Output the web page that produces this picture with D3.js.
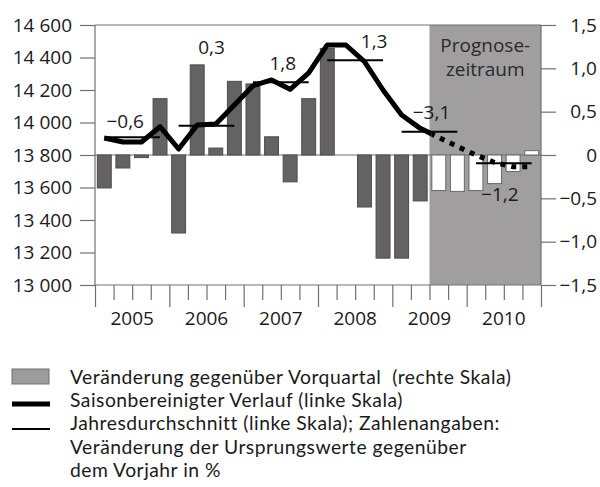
<!DOCTYPE html>
<html>
<head>
<meta charset="utf-8">
<script src="https://cdn.jsdelivr.net/npm/d3@7"></script>
<style>
  body { margin: 0; background: #fff; }
  #chart { width: 600px; height: 487px; }
  text { font-family: "Open Sans", "Noto Sans", sans-serif; fill: #1a1a1a; }
</style>
</head>
<body>
<div id="chart"></div>
<script>
// Data
var years = ["2005", "2006", "2007", "2008", "2009", "2010"];
var quarters = [
    "2005 Q1", "2005 Q2", "2005 Q3", "2005 Q4",
    "2006 Q1", "2006 Q2", "2006 Q3", "2006 Q4",
    "2007 Q1", "2007 Q2", "2007 Q3", "2007 Q4",
    "2008 Q1", "2008 Q2", "2008 Q3", "2008 Q4",
    "2009 Q1", "2009 Q2", "2009 Q3", "2009 Q4",
    "2010 Q1", "2010 Q2", "2010 Q3", "2010 Q4"
];
// Veränderung gegenüber Vorquartal (rechte Skala)
var changePrevQuarter = [-0.38, -0.15, -0.03, 0.65, -0.90, 1.04, 0.08, 0.85,
    0.82, 0.21, -0.31, 0.65, 1.23, 0.0, -0.60, -1.19,
    -1.19, -0.53, -0.41, -0.42, -0.41, -0.33, -0.19, 0.05];
// Saisonbereinigter Verlauf (linke Skala)
var seasonAdjusted = [13905, 13880, 13880, 13974, 13837, 13985, 13991, 14108,
    14226, 14262, 14204, 14305, 14477, 14477, 14374, 14200,
    14046, 13964, 13908, 13852, 13800, 13754, 13728, 13728];
// Jahresdurchschnitt (linke Skala) + Veränderung gegenüber Vorjahr
var annualAverage = [13910, 13980, 14248, 14383, 13943, 13750];
var annualChange = ["\u22120,6", "0,3", "1,8", "1,3", "\u22123,1", "\u22121,2"];
var leftTicks = [13000, 13200, 13400, 13600, 13800, 14000, 14200, 14400, 14600];
var rightTicks = [-1.5, -1.0, -0.5, 0, 0.5, 1.0, 1.5];
var forecastFrom = "2009 Q3";
var legendItems = [
    "Veränderung gegenüber Vorquartal  (rechte Skala)",
    "Saisonbereinigter Verlauf (linke Skala)",
    "Jahresdurchschnitt (linke Skala); Zahlenangaben:",
    "Veränderung der Ursprungswerte gegenüber",
    "dem Vorjahr in %"
];

// label placement relative to the average line (pixels)
var labelPos = [[-7, -9], [5, -72], [2, -12], [19, -12], [2, -13], [-4, 38]];

// Layout
var width = 600, height = 487;
var plotL = 95, plotR = 541, plotT = 25, plotB = 285;
var axisColor = "#707070";
var fontSize = "19px";

var locale = d3.formatLocale({decimal: ",", thousands: " ", grouping: [3], currency: ["", ""]});
var fmtLeft = locale.format(",d");
var fmtRight = function (d) {
    if (d === 0) return "0";
    return locale.format(".1f")(d).replace("-", "\u2212");
};

var svg = d3.select("#chart").append("svg")
    .attr("width", width)
    .attr("height", height);

var x = d3.scaleBand().domain(quarters).range([plotL, plotR]).paddingInner(0.25).paddingOuter(0.125);
var xq = d3.scaleLinear().domain([0, quarters.length]).range([plotL, plotR]);
var yL = d3.scaleLinear().domain([13000, 14600]).range([plotB, plotT]);
var yR = d3.scaleLinear().domain([-1.5, 1.5]).range([plotB, plotT]);

var fcIndex = quarters.indexOf(forecastFrom);
var fcX = xq(fcIndex);

// forecast area
svg.append("rect")
    .attr("x", fcX).attr("y", plotT)
    .attr("width", plotR - fcX).attr("height", plotB - plotT)
    .attr("fill", "#a09e9f");

svg.append("text")
    .attr("x", (fcX + plotR) / 2).attr("y", 52)
    .attr("text-anchor", "middle")
    .style("font-size", fontSize).style("fill", "#2a2a2a")
    .text("Prognose-");
svg.append("text")
    .attr("x", (fcX + plotR) / 2).attr("y", 76)
    .attr("text-anchor", "middle")
    .style("font-size", fontSize).style("fill", "#2a2a2a")
    .text("zeitraum");

// zero line
svg.append("line")
    .attr("x1", plotL).attr("x2", plotR)
    .attr("y1", yR(0)).attr("y2", yR(0))
    .attr("stroke", axisColor).attr("stroke-width", 1.2);

// bars
svg.append("g").selectAll("rect")
    .data(changePrevQuarter)
    .enter().append("rect")
    .attr("x", function (d, i) { return x(quarters[i]); })
    .attr("width", x.bandwidth())
    .attr("y", function (d) { return yR(Math.max(0, d)); })
    .attr("height", function (d) { return Math.abs(yR(d) - yR(0)); })
    .attr("fill", function (d, i) { return i >= fcIndex ? "#fff" : "#656263"; })
    .attr("stroke", function (d, i) { return i >= fcIndex ? "#6a6a6a" : "#4e4c4d"; })
    .attr("stroke-width", 1);

// frame and axes
var frame = svg.append("g").attr("stroke", axisColor).attr("stroke-width", 1.2);
frame.append("line").attr("x1", plotL).attr("x2", plotR).attr("y1", plotT).attr("y2", plotT);
frame.append("line").attr("x1", plotL).attr("x2", plotR).attr("y1", plotB).attr("y2", plotB);
frame.append("line").attr("x1", plotL).attr("x2", plotL).attr("y1", plotT).attr("y2", plotB);
frame.append("line").attr("x1", plotR).attr("x2", plotR).attr("y1", plotT).attr("y2", plotB);

var leftAxis = svg.append("g")
    .attr("transform", "translate(" + plotL + ",0)")
    .call(d3.axisLeft(yL).tickValues(leftTicks).tickFormat(fmtLeft).tickSize(15).tickPadding(8));
var rightAxis = svg.append("g")
    .attr("transform", "translate(" + plotR + ",0)")
    .call(d3.axisRight(yR).tickValues(rightTicks).tickFormat(fmtRight).tickSize(15));
rightAxis.selectAll("text").attr("x", 56).attr("text-anchor", "end");

var bottomAxis = svg.append("g")
    .attr("transform", "translate(0," + plotB + ")")
    .call(d3.axisBottom(xq).tickValues(d3.range(quarters.length + 1)).tickFormat("").tickSize(15));
bottomAxis.selectAll(".tick line")
    .attr("y2", function (d) { return d % 4 === 0 ? 22 : 15; });

[leftAxis, rightAxis, bottomAxis].forEach(function (a) {
    a.select(".domain").remove();
    a.selectAll(".tick line").attr("stroke", axisColor).attr("stroke-width", 1.2);
    a.selectAll("text").style("font-size", fontSize).style("font-family", "'Open Sans', sans-serif").attr("fill", "#1a1a1a");
});

// year labels
svg.append("g").selectAll("text")
    .data(years)
    .enter().append("text")
    .attr("x", function (d, i) { return xq(i * 4 + 2); })
    .attr("y", 325)
    .attr("text-anchor", "middle")
    .style("font-size", fontSize)
    .text(function (d) { return d; });

// seasonally adjusted line
var lineData = seasonAdjusted.map(function (v, i) {
    return [x(quarters[i]) + x.bandwidth() / 2, yL(v)];
});
var line = d3.line();

svg.append("clipPath").attr("id", "histClip")
    .append("rect").attr("x", 0).attr("y", 0).attr("width", fcX + 2).attr("height", height);
svg.append("clipPath").attr("id", "fcClip")
    .append("rect").attr("x", fcX + 2).attr("y", 0).attr("width", width).attr("height", height);

svg.append("path")
    .attr("d", line(lineData.slice(0, fcIndex + 1)))
    .attr("clip-path", "url(#histClip)")
    .attr("fill", "none").attr("stroke", "#000")
    .attr("stroke-width", 5).attr("stroke-linejoin", "round");

svg.append("path")
    .attr("d", line(lineData.slice(fcIndex - 1)))
    .attr("clip-path", "url(#fcClip)")
    .attr("fill", "none").attr("stroke", "#000")
    .attr("stroke-width", 5).attr("stroke-dasharray", "5,6");

// annual averages
var avg = svg.append("g");
annualAverage.forEach(function (v, i) {
    var x1 = x(quarters[i * 4]) + x.bandwidth() / 2;
    var x2 = x(quarters[i * 4 + 3]) + x.bandwidth() / 2;
    avg.append("line")
        .attr("x1", x1).attr("x2", x2)
        .attr("y1", yL(v)).attr("y2", yL(v))
        .attr("stroke", "#000").attr("stroke-width", 2);
    avg.append("text")
        .attr("x", (x1 + x2) / 2 + labelPos[i][0])
        .attr("y", yL(v) + labelPos[i][1])
        .attr("text-anchor", "middle")
        .style("font-size", fontSize)
        .text(annualChange[i]);
});

// legend
var legend = svg.append("g");
legend.append("rect")
    .attr("x", 12).attr("y", 369).attr("width", 37).attr("height", 15)
    .attr("fill", "#9c9c9c").attr("stroke", "#707070");
legend.append("line")
    .attr("x1", 12).attr("x2", 50).attr("y1", 404).attr("y2", 404)
    .attr("stroke", "#000").attr("stroke-width", 5);
legend.append("line")
    .attr("x1", 12).attr("x2", 50).attr("y1", 429).attr("y2", 429)
    .attr("stroke", "#000").attr("stroke-width", 2);
legend.selectAll("text")
    .data(legendItems)
    .enter().append("text")
    .attr("x", 70)
    .attr("y", function (d, i) { return 384 + i * 23.2; })
    .style("font-family", "Lato, 'Open Sans', sans-serif")
    .style("font-size", "19.3px")
    .style("letter-spacing", "0.5px")
    .style("white-space", "pre")
    .text(function (d) { return d; });
</script>
</body>
</html>
